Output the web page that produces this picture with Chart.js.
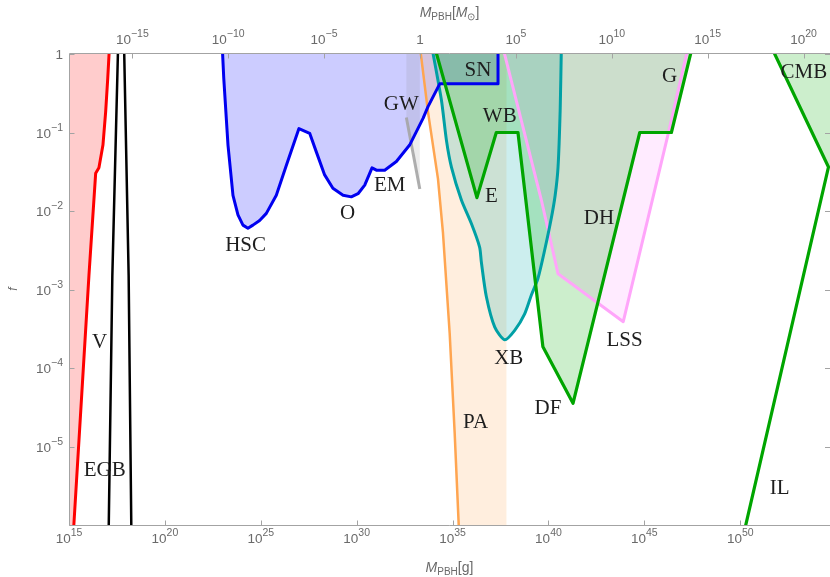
<!DOCTYPE html>
<html>
<head>
<meta charset="utf-8">
<script src="https://cdn.jsdelivr.net/npm/chart.js@4.4.0/dist/chart.umd.min.js"></script>
<style>
  html, body { margin: 0; padding: 0; background: #fff; }
</style>
</head>
<body>
<canvas id="pbhChart" width="830" height="577"></canvas>
<script>
const SOLAR_MASS_G = 2e33;

// everything below is log10(M / g) and log10(f)
const vLogM = [15.24, 16.04, 16.39, 16.56, 16.77, 16.91, 17.02, 17.10];
const vLogF = [-6.05, -2.82, -1.52, -1.45, -1.16, -0.74, -0.31, 0.05];

const egbLogM = [17.07, 17.26, 17.55, 17.72, 17.88, 18.11, 18.25];
const egbLogF = [-6.05, -2.82, 0, 0.56, 0, -2.82, -6.05];

// HSC, O, EM and the SN box are one blue bound
const microLogM = [23.00, 23.07, 23.29, 23.55, 23.81, 24.07, 24.33, 24.59, 24.94, 25.29, 25.81,
                   26.33, 26.99, 27.55, 27.90, 28.33, 28.76, 29.29, 29.72, 30.07, 30.42,
                   30.80, 31.03, 31.46, 32.07, 32.76, 33.46, 33.72, 34.33, 37.37, 37.37];
const microLogF = [0.05, -0.31, -1.16, -1.80, -2.05, -2.18, -2.22, -2.18, -2.12, -2.03, -1.80,
                   -1.42, -0.95, -1.01, -1.25, -1.54, -1.71, -1.80, -1.82, -1.78, -1.67,
                   -1.45, -1.48, -1.48, -1.37, -1.16, -0.82, -0.67, -0.38, -0.38, 0.05];

const gwLogM = [32.59, 33.29];
const gwLogF = [-0.81, -1.72];

const paLogM = [33.32, 33.72, 34.24, 34.50, 34.85, 35.11, 35.33];
const paLogF = [0.05, -0.74, -1.59, -2.28, -3.56, -4.83, -6.05];
const paEdgeLogM = 37.81;

const xbLogM = [33.95, 34.42, 34.68, 34.94, 35.46, 35.98, 36.41, 36.50, 36.76, 37.20, 37.72,
                38.24, 38.76, 39.11, 39.45, 39.80, 40.15, 40.35, 40.50, 40.61, 40.67];
const xbLogF = [0.05, -0.59, -1.10, -1.44, -1.86, -2.16, -2.46, -2.65, -3.09, -3.48, -3.64,
                -3.52, -3.31, -3.07, -2.86, -2.50, -2.09, -1.80, -1.44, -0.72, 0.05];

// E, WB, DF, DH, G
const dynLogM = [34.11, 36.27, 37.28, 38.41, 39.71, 41.28, 44.76, 46.41, 47.46];
const dynLogF = [0.05, -1.83, -1.00, -1.00, -3.73, -4.45, -1.00, -1.00, 0.05];

const lssLogM = [37.66, 39.63, 40.50, 43.90, 46.23, 47.25];
const lssLogF = [0.05, -1.86, -2.80, -3.41, -1.03, 0.05];

// IL up to the corner, then CMB back to the top
const ilCmbLogM = [50.24, 54.60, 51.70];
const ilCmbLogF = [-6.05, -1.44, 0.05];

const labelText = ['V', 'EGB', 'HSC', 'O', 'EM', 'GW', 'SN', 'WB', 'E', 'PA', 'XB', 'DF', 'DH', 'LSS', 'G', 'CMB', 'IL'];
const labelLogM = [16.60, 16.86, 24.21, 29.52, 31.72, 32.33, 36.32, 37.46, 37.02, 36.20, 37.93, 39.97, 42.63, 43.97, 46.32, 53.32, 52.05];
const labelLogF = [-3.68, -5.30, -2.44, -2.03, -1.68, -0.64, -0.21, -0.80, -1.82, -4.70, -3.88, -4.52, -2.10, -3.65, -0.29, -0.23, -5.54];

const gramTickExps = [15, 20, 25, 30, 35, 40, 45, 50];
const solarTickExps = [-15, -10, -5, 0, 5, 10, 15, 20];
const fTickExps = [0, -1, -2, -3, -4, -5];

const X_MAX_EXP = 54.68;

const pts = (ms, fs) => ms.map((m, i) => ({ x: 10 ** m, y: 10 ** fs[i] }));

function area(points, color, tension) {
    return { data: points, fill: 'shape', backgroundColor: color, borderWidth: 0,
             pointRadius: 0, tension: tension || 0, clip: 0 };
}
function bound(points, color, width, tension) {
    return { data: points, fill: false, borderColor: color, borderWidth: width,
             pointRadius: 0, tension: tension || 0, clip: 0, borderJoinStyle: 'round' };
}

const GREEN_FILL = 'rgba(0,170,0,0.2)';

const datasets = [
    // lines first in the list so they end up on top
    bound(pts(dynLogM, dynLogF), 'rgb(0,165,0)', 3.2),
    bound(pts(ilCmbLogM, ilCmbLogF), 'rgb(0,165,0)', 3.2),
    bound(pts(microLogM, microLogF), 'rgb(0,0,240)', 3),
    bound(pts(xbLogM, xbLogF), 'rgb(0,160,165)', 3, 0.25),
    bound(pts(lssLogM, lssLogF), 'rgb(255,165,250)', 3),
    bound(pts(paLogM, paLogF), 'rgb(255,165,80)', 2.5),
    bound(pts(gwLogM, gwLogF), 'rgba(165,165,165,0.9)', 3),
    bound(pts(vLogM, vLogF), 'rgb(255,0,0)', 3),
    bound(pts(egbLogM, egbLogF), '#000', 2.5),

    area(pts(dynLogM, dynLogF), GREEN_FILL),
    area(pts([55, ilCmbLogM[2], ilCmbLogM[1], 55], [0.05, ilCmbLogF[2], ilCmbLogF[1], ilCmbLogF[1]]), GREEN_FILL),
    area(pts(lssLogM, lssLogF), 'rgba(255,100,255,0.13)'),
    area(pts(xbLogM, xbLogF), 'rgba(0,170,170,0.2)', 0.25),
    area(pts(paLogM, paLogF).concat(pts([paEdgeLogM, paEdgeLogM], [-6.05, 0.05])), 'rgba(255,150,50,0.16)'),
    area(pts([gwLogM[0], ...gwLogM, gwLogM[1]], [0.05, ...gwLogF, 0.05]), 'rgba(128,128,128,0.15)'),
    area(pts(microLogM, microLogF), 'rgba(0,0,255,0.2)'),
    area(pts(vLogM, vLogF).concat(pts([14, 14], [1, -7])), 'rgba(255,0,0,0.2)')
];

const TICK_FONT = '"Liberation Sans", Arial, sans-serif';
const GREY = '#6a6a6a';

function drawPower(ctx, exp, x, baseline, align) {
    const base = exp === 0 ? '1' : '10';
    const sup = exp === 0 ? '' : String(exp).replace('-', '\u2212');
    ctx.font = '13.5px ' + TICK_FONT;
    const wb = ctx.measureText(base).width;
    ctx.font = '10.5px ' + TICK_FONT;
    const ws = ctx.measureText(sup).width;
    const total = wb + ws;
    const left = align === 'center' ? x - total / 2 : x - total;
    ctx.textAlign = 'left';
    ctx.textBaseline = 'alphabetic';
    ctx.font = '13.5px ' + TICK_FONT;
    ctx.fillText(base, left, baseline);
    if (sup) {
        ctx.font = '10.5px ' + TICK_FONT;
        ctx.fillText(sup, left + wb, baseline - 7);
    }
}

// pieces: [text, italic, sub]
function drawTitle(ctx, pieces, cx, baseline) {
    const fontFor = p => (p[1] ? 'italic ' : '') + (p[2] ? '10px ' : '14px ') + TICK_FONT;
    let total = 0;
    pieces.forEach(p => { ctx.font = fontFor(p); total += ctx.measureText(p[0]).width; });
    let x = cx - total / 2;
    ctx.textAlign = 'left';
    ctx.textBaseline = 'alphabetic';
    pieces.forEach(p => {
        ctx.font = fontFor(p);
        ctx.fillText(p[0], x, baseline + (p[2] ? 3 : 0));
        x += ctx.measureText(p[0]).width;
    });
}

const axisFrame = {
    id: 'axisFrame',
    afterDatasetsDraw(chart) {
        const { ctx, chartArea: a, scales } = chart;
        const left = Math.round(a.left) + 0.5;
        const top = Math.round(a.top) - 0.5;
        const bottom = Math.round(a.bottom) + 0.5;
        const right = a.right;
        ctx.save();
        ctx.strokeStyle = '#a3a3a3';
        ctx.lineWidth = 1;
        const seg = (x1, y1, x2, y2) => { ctx.beginPath(); ctx.moveTo(x1, y1); ctx.lineTo(x2, y2); ctx.stroke(); };
        seg(left, top, right, top);
        seg(left, bottom, right, bottom);
        seg(left, top, left, bottom);

        gramTickExps.forEach(e => {
            const x = Math.round(scales.x.getPixelForValue(10 ** e)) + 0.5;
            seg(x, bottom, x, bottom - 5);
        });
        solarTickExps.forEach(e => {
            const x = Math.round(scales.xTop.getPixelForValue(10 ** e)) + 0.5;
            seg(x, top, x, top + 5);
        });
        fTickExps.forEach(e => {
            const y = Math.round(scales.y.getPixelForValue(10 ** e)) + 0.5;
            seg(left, y, left + 5, y);
            seg(right, y, right - 5, y);
        });

        ctx.fillStyle = GREY;
        gramTickExps.forEach(e => drawPower(ctx, e, scales.x.getPixelForValue(10 ** e), 543, 'center'));
        solarTickExps.forEach(e => drawPower(ctx, e, scales.xTop.getPixelForValue(10 ** e), 44, 'center'));
        fTickExps.forEach(e => drawPower(ctx, e, 63, scales.y.getPixelForValue(10 ** e) + 5, 'right'));

        const midX = (a.left + a.right) / 2;
        drawTitle(ctx, [['M', true, false], ['PBH', false, true], ['[', false, false], ['M', true, false], ['\u2299', false, true], [']', false, false]], midX, 17);
        drawTitle(ctx, [['M', true, false], ['PBH', false, true], ['[g]', false, false]], midX, 572);

        ctx.save();
        ctx.translate(14, 289);
        ctx.rotate(-Math.PI / 2);
        ctx.font = 'italic 12px ' + TICK_FONT;
        ctx.textAlign = 'center';
        ctx.textBaseline = 'middle';
        ctx.fillText('f', 0, 0);
        ctx.restore();

        // region names
        ctx.fillStyle = '#1e1e1e';
        ctx.font = '21px "Liberation Serif", "Times New Roman", serif';
        ctx.textAlign = 'center';
        ctx.textBaseline = 'middle';
        labelText.forEach((t, i) => {
            ctx.fillText(t, scales.x.getPixelForValue(10 ** labelLogM[i]), scales.y.getPixelForValue(10 ** labelLogF[i]));
        });
        ctx.restore();
    }
};

new Chart(document.getElementById('pbhChart'), {
    type: 'line',
    data: { datasets: datasets },
    options: {
        responsive: false,
        animation: false,
        devicePixelRatio: 1,
        layout: { padding: { left: 69, right: 0, top: 54, bottom: 52 } },
        scales: {
            x: { type: 'logarithmic', min: 1e15, max: 10 ** X_MAX_EXP, display: false },
            xTop: { type: 'logarithmic', axis: 'x', position: 'top',
                    min: 1e15 / SOLAR_MASS_G, max: 10 ** X_MAX_EXP / SOLAR_MASS_G, display: false },
            y: { type: 'logarithmic', min: 1e-6, max: 1, display: false }
        },
        plugins: {
            legend: { display: false },
            tooltip: { enabled: false },
            filler: { propagate: false, drawTime: 'beforeDatasetsDraw' }
        }
    },
    plugins: [axisFrame]
});
</script>
</body>
</html>
